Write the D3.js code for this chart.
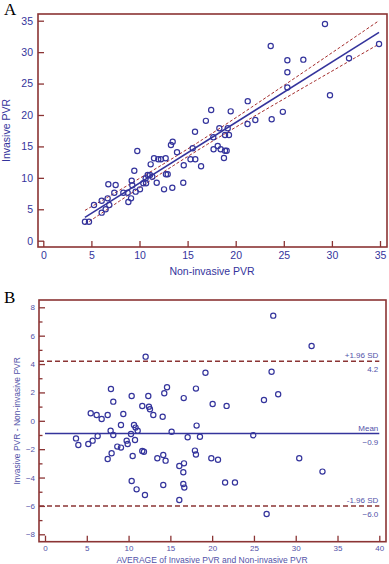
<!DOCTYPE html>
<html><head><meta charset="utf-8">
<script src="https://cdn.jsdelivr.net/npm/d3@7"></script>
<style>body{margin:0;background:#fff}svg{display:block}</style>
</head><body>
<svg id="chart" width="389" height="564"></svg>
<script>
// ---- Panel A data: non-invasive (x) vs invasive (y) PVR ----
const nonInvasive = [4.33,4.75,5.27,6.07,6.07,6.48,6.69,6.86,6.76,7.52,7.38,8.32,8.77,8.84,9.12,9.19,9.25,9.46,9.77,9.6,
  10.05,10.4,10.68,10.64,10.85,11.09,11.33,11.16,11.51,11.79,11.95,12.23,12.72,12.55,12.75,12.93,13.41,13.27,13.45,13.9,
  14.55,14.6,15.3,15.8,15.53,16.4,15.77,16.9,17.45,17.67,17.7,18.13,18.3,18.44,18.89,19.17,19.3,18.89,19.06,18.78,
  19.48,21.23,21.25,22.04,23.74,24.9,25.37,25.37,25.37,29.28,23.64,27.03,31.78,34.9,29.8];
const invasive = [3.02,3.02,5.68,6.36,4.46,5.0,6.74,5.68,8.97,8.86,7.64,7.64,7.64,6.16,6.74,9.55,8.81,11.14,14.27,7.8,
  8.17,9.13,9.13,9.93,10.45,10.45,10.18,12.15,13.11,9.23,12.95,12.95,13.11,8.17,10.56,10.56,8.43,15.22,15.75,14.06,
  9.23,12.0,12.95,12.95,14.7,11.85,17.34,19.07,20.8,16.45,14.54,15.07,17.88,14.54,16.82,17.88,16.82,14.32,14.32,13.16,
  20.58,18.57,22.2,19.2,19.31,20.5,24.38,26.8,28.7,34.47,30.97,28.8,29.02,31.3,23.13];
const ticksA = [0,5,10,15,20,25,30,35];
// regression line as drawn in the reference (slope, intercept)
const fitSlope = 0.963, fitIntercept = -0.46;

// ---- Panel B data: Bland-Altman ----
const baAverage = [7.89,8.17,10.37,12.36,14.27,14.6,11.64,12.44,12.56,12.96,14.08,5.47,6.18,6.78,7.5,9.37,9.09,10.65,10.84,11.09,
  7.85,8.17,10.29,10.77,9.77,9.89,3.71,3.99,5.18,5.7,6.3,8.65,9.09,7.5,7.97,11.64,11.84,10.49,13.44,14.15,
  14.43,10.37,10.96,11.96,14.15,15.15,16.07,16.07,16.63,16.55,16.55,16.67,17.07,18.14,18.54,17.94,18.06,19.9,20.7,21.55,
  22.73,24.92,26.52,30.42,33.2,19.2,18.06,16.6,20.06,21.73,26.2,27.11,27.31,31.9,27.9,12.04];
const baDifference = [2.24,1.35,1.75,1.75,1.94,2.36,1.04,0.99,0.81,0.41,0.29,0.53,0.41,0.13,0.41,0.48,-0.3,-0.3,-0.48,-0.7,
  -0.7,-1.0,-0.93,-1.35,-1.4,-1.63,-1.24,-1.71,-1.63,-1.4,-1.07,-1.82,-1.89,-2.69,-2.29,-2.13,-2.18,-2.48,-2.64,-2.41,
  -2.81,-4.24,-4.83,-5.23,-4.52,-0.77,-5.58,-3.19,-3.0,-3.63,-4.45,-4.71,-1.16,-0.34,-1.12,-2.1,-2.38,-2.64,-2.75,-4.35,
  -4.35,-1.02,-6.57,-2.64,-3.58,3.39,2.27,1.6,1.18,1.05,1.47,3.46,7.41,5.27,1.87,4.52];
const ticksBX = [0,5,10,15,20,25,30,35,40];
const ticksBY = [-8,-6,-4,-2,0,2,4,6,8];
const minorBY = [-7,-5,-3,-1,1,3,5,7];
const baMean = -0.9, baUpper = 4.2, baLower = -6.0;

const FRAME = "#8b3434", BLUE = "#34349c", LBLUE = "#5252a8", DASHRED = "#a32a2a";
const FONT = "Liberation Sans, Arial, sans-serif";
const svg = d3.select("#chart");

// ================= Panel A =================
const fA = {x:38, y:14, w:349, h:233};
const xA = d3.scaleLinear().domain([0,35]).range([43.3,380]);
const yA = d3.scaleLinear().domain([0,35]).range([240.7,20.7]);
const gA = svg.append("g");

gA.append("text").attr("x",4).attr("y",15).attr("font-family","Liberation Serif, Times New Roman, serif")
  .attr("font-size",17).attr("fill","#000").text("A");

// 95% confidence band of the fitted line, from the data's residuals
const n = nonInvasive.length;
const mx = d3.mean(nonInvasive);
let sxx=0, sse=0;
for (let i=0;i<n;i++){
  sxx += (nonInvasive[i]-mx)**2;
  sse += (invasive[i]-(fitIntercept+fitSlope*nonInvasive[i]))**2;
}
const s = Math.sqrt(sse/(n-2)), tval = 1.993;
const [xmin,xmax] = d3.extent(nonInvasive);
const xs = d3.range(0,61).map(k => xmin + (xmax-xmin)*k/60);
const hw = x => tval*s*Math.sqrt(1/n + (x-mx)**2/sxx);
const fit = x => fitIntercept + fitSlope*x;

const line = d3.line().x(d=>xA(d[0])).y(d=>yA(d[1]));
gA.append("path").attr("d", line(xs.map(x=>[x, fit(x)+hw(x)])))
  .attr("fill","none").attr("stroke",DASHRED).attr("stroke-width",1).attr("stroke-dasharray","3,2");
gA.append("path").attr("d", line(xs.map(x=>[x, fit(x)-hw(x)])))
  .attr("fill","none").attr("stroke",DASHRED).attr("stroke-width",1).attr("stroke-dasharray","3,2");
gA.append("path").attr("d", line([[xmin, fit(xmin)],[xmax, fit(xmax)]]))
  .attr("fill","none").attr("stroke",BLUE).attr("stroke-width",1.6);

gA.selectAll("circle.pt").data(nonInvasive.map((x,i)=>[x,invasive[i]])).join("circle")
  .attr("class","pt").attr("cx",d=>xA(d[0])).attr("cy",d=>yA(d[1])).attr("r",2.6)
  .attr("fill","none").attr("stroke",BLUE).attr("stroke-width",1.2);

const axAy = gA.append("g").attr("transform",`translate(${fA.x},0)`)
  .call(d3.axisLeft(yA).tickValues(ticksA).tickSize(-6).tickPadding(5));
const axAx = gA.append("g").attr("transform",`translate(0,${fA.y+fA.h})`)
  .call(d3.axisBottom(xA).tickValues(ticksA).tickSize(-6).tickPadding(5));
[axAy, axAx].forEach(a=>{
  a.select(".domain").remove();
  a.selectAll("line").attr("stroke",FRAME).attr("stroke-width",1.3);
  a.selectAll("text").attr("fill",BLUE).attr("font-family",FONT).attr("font-size",10.5);
});
gA.append("rect").attr("x",fA.x).attr("y",fA.y).attr("width",fA.w).attr("height",fA.h)
  .attr("fill","none").attr("stroke",FRAME).attr("stroke-width",1.6);

gA.append("text").attr("x",212).attr("y",275).attr("text-anchor","middle")
  .attr("font-family",FONT).attr("font-size",10.5).attr("fill",BLUE).text("Non-invasive PVR");
gA.append("text").attr("transform",`translate(10,${fA.y+fA.h/2}) rotate(-90)`).attr("text-anchor","middle")
  .attr("font-family",FONT).attr("font-size",10.5).attr("fill",BLUE).text("Invasive PVR");

// ================= Panel B =================
const fB = {x:39, y:300, w:347, h:241.7};
const xB = d3.scaleLinear().domain([0,40]).range([45,379.3]);
const yB = d3.scaleLinear().domain([-8,8]).range([534.3,307.3]);
const gB = svg.append("g");

gB.append("text").attr("x",4).attr("y",303).attr("font-family","Liberation Serif, Times New Roman, serif")
  .attr("font-size",17).attr("fill","#000").text("B");

gB.append("line").attr("x1",xB(0)).attr("x2",xB(40)).attr("y1",yB(baMean)).attr("y2",yB(baMean))
  .attr("stroke",BLUE).attr("stroke-width",1.6);
[baUpper, baLower].forEach(v=>{
  gB.append("line").attr("x1",fB.x).attr("x2",xB(40)).attr("y1",yB(v)).attr("y2",yB(v))
    .attr("stroke",FRAME).attr("stroke-width",1.6).attr("stroke-dasharray","5,3");
});
const refLabels = [
  {v:baUpper, top:"+1.96 SD", bot:d3.format(".1f")(baUpper)},
  {v:baMean, top:"Mean", bot:d3.format(".1f")(baMean)},
  {v:baLower, top:"-1.96 SD", bot:d3.format(".1f")(baLower)}
];
refLabels.forEach(r=>{
  gB.append("text").attr("x",xB(40)-1).attr("y",yB(r.v)-3).attr("text-anchor","end")
    .attr("font-family",FONT).attr("font-size",8).attr("fill",LBLUE).text(r.top);
  gB.append("text").attr("x",xB(40)-1).attr("y",yB(r.v)+11).attr("text-anchor","end")
    .attr("font-family",FONT).attr("font-size",8).attr("fill",LBLUE).text(r.bot);
});

gB.selectAll("circle.pt").data(baAverage.map((x,i)=>[x,baDifference[i]])).join("circle")
  .attr("class","pt").attr("cx",d=>xB(d[0])).attr("cy",d=>yB(d[1])).attr("r",2.6)
  .attr("fill","none").attr("stroke",BLUE).attr("stroke-width",1.2);

const axBy = gB.append("g").attr("transform",`translate(${fB.x},0)`)
  .call(d3.axisLeft(yB).tickValues(ticksBY).tickSize(-6).tickPadding(4));
const axBym = gB.append("g").attr("transform",`translate(${fB.x},0)`)
  .call(d3.axisLeft(yB).tickValues(minorBY).tickSize(-3.5).tickFormat(""));
const axBx = gB.append("g").attr("transform",`translate(0,${fB.y+fB.h})`)
  .call(d3.axisBottom(xB).tickValues(ticksBX).tickSize(-6).tickPadding(4));
[axBy, axBym, axBx].forEach(a=>{
  a.select(".domain").remove();
  a.selectAll("line").attr("stroke",FRAME).attr("stroke-width",1.3);
  a.selectAll("text").attr("fill",LBLUE).attr("font-family",FONT).attr("font-size",8);
});
gB.append("rect").attr("x",fB.x).attr("y",fB.y).attr("width",fB.w).attr("height",fB.h)
  .attr("fill","none").attr("stroke",FRAME).attr("stroke-width",1.6);

gB.append("text").attr("x",212).attr("y",563).attr("text-anchor","middle")
  .attr("font-family",FONT).attr("font-size",8.5).attr("fill",LBLUE).text("AVERAGE of Invasive PVR and Non-invasive PVR");
gB.append("text").attr("transform",`translate(20,${fB.y+fB.h/2}) rotate(-90)`).attr("text-anchor","middle")
  .attr("font-family",FONT).attr("font-size",8.5).attr("fill",LBLUE).text("Invasive PVR - Non-invasive PVR");
</script>
</body></html>
